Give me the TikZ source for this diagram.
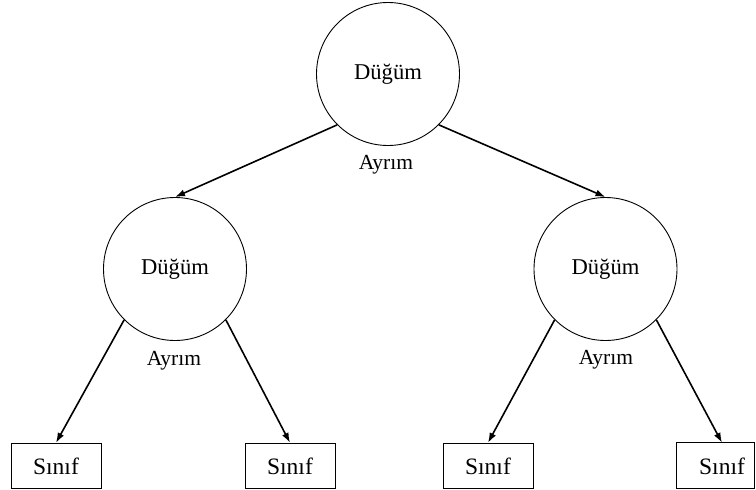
\documentclass[tikz,border=0pt]{standalone}
\usepackage{fontspec}
\setmainfont{Liberation Serif}
\usetikzlibrary{arrows.meta}
\begin{document}
\begin{tikzpicture}[x=1pt,y=-1pt,
  dnode/.style={circle,draw,line width=0.9pt,minimum size=143pt,inner sep=0pt,font=\fontsize{22.6}{26}\selectfont},
  lbl/.style={font=\fontsize{21.5}{25}\selectfont,inner sep=0pt},
  leaf/.style={rectangle,draw,line width=0.9pt,minimum width=90pt,minimum height=45.5pt,inner sep=0pt,font=\fontsize{23.5}{27}\selectfont},
  conn/.style={line width=1.6pt,-{Latex[length=10pt,width=7pt]}}]
\useasboundingbox (0,0) rectangle (756,490);
\node[dnode] (top) at (388,74) {Düğüm};
\node[dnode] (left) at (175,269) {Düğüm};
\node[dnode] (right) at (605.5,269) {Düğüm};
\node[lbl] (ltop) at (386,165) {Ayrım};
\node[lbl] (lleft) at (174,361) {Ayrım};
\node[lbl] (lright) at (606,360) {Ayrım};
\node[leaf] (b1) at (56,466) {Sınıf};
\node[leaf] (b2) at (290,466) {Sınıf};
\node[leaf] (b3) at (488,466) {Sınıf};
\node[leaf,draw=none] (b4) at (722,466) {Sınıf};
\draw[line width=0.9pt] (b4.north west) rectangle (754,488.75);
\draw[conn] (top.225) -- (left.north);
\draw[conn] (top.315) -- (right.north);
\draw[conn] (left.225) -- (b1.north);
\draw[conn] (left.315) -- (b2.north);
\draw[conn] (right.225) -- (b3.north);
\draw[conn] (right.315) -- (b4.north);
\end{tikzpicture}
\end{document}
